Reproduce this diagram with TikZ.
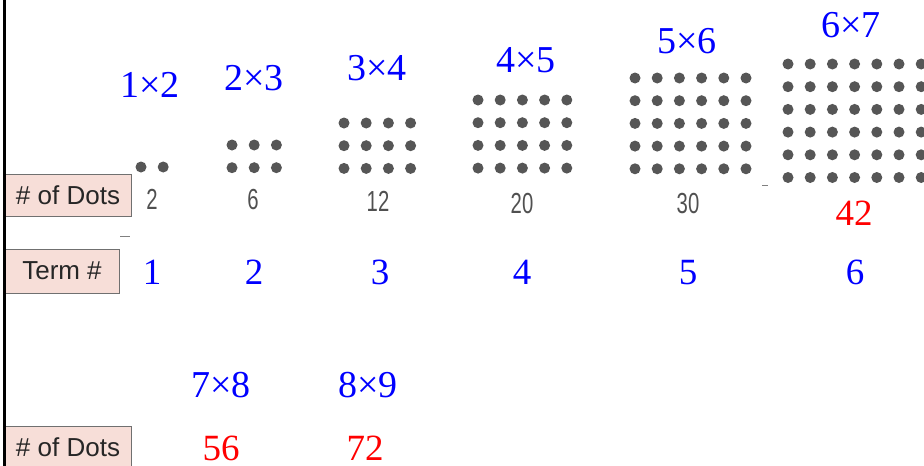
\documentclass[tikz,border=0pt]{standalone}
\usepackage{fontspec}
\setmainfont{Liberation Serif}
\newfontfamily\labelsans{Liberation Sans}
\newfontfamily\narrowsans[FakeStretch=0.7]{Liberation Sans}
\usepackage{tikz}

\definecolor{boxpink}{HTML}{F7DED8}
\definecolor{boxedge}{HTML}{707070}
\definecolor{beadgray}{HTML}{565656}
\definecolor{countgray}{HTML}{505050}

\begin{document}
\begin{tikzpicture}[x=1pt, y=-1pt,
  rowbox/.style={rectangle, draw=boxedge, fill=boxpink, line width=1pt, inner sep=0pt,
    font=\labelsans\fontsize{26}{28}\selectfont, text=black!85},
  prod/.style={text=blue, inner sep=0pt, text depth=0pt, font=\fontsize{38}{40}\selectfont},
  term/.style={text=blue, inner sep=0pt, text depth=0pt, font=\fontsize{37}{40}\selectfont},
  total/.style={text=red, inner sep=0pt, text depth=0pt, font=\fontsize{37}{40}\selectfont},
  count/.style={text=countgray, inner sep=0pt, text depth=0pt, font=\narrowsans\fontsize{29}{30}\selectfont},
  bead/.style={fill=beadgray}]

\useasboundingbox (0,0) rectangle (924,466);

% row labels
\node[rowbox, minimum width=126pt, minimum height=42pt] (dots) at (68,195) {\# of Dots};
\node[rowbox, minimum width=114pt, minimum height=44pt] (termno) at (62,271) {Term \#};
\node[rowbox, minimum width=126pt, minimum height=42pt] (dotsb) at (68,447) {\# of Dots};

% dot arrays: left x / top y / columns / rows
\foreach \x/\y/\nc/\nr in {141/167/2/1, 232/145/3/2, 344/123/4/3, 478/100/5/4, 635/78/6/5, 788/64/7/6}
  \foreach \i in {1,...,\nc}
    \foreach \j in {1,...,\nr}
      \fill[bead] ({\x+22.2*(\i-1)},{\y+22.7*(\j-1)}) circle (5.5pt);

% products
\node[prod] (p1) at (150,85) {1×2};
\node[prod] (p2) at (254,78) {2×3};
\node[prod] (p3) at (377,68) {3×4};
\node[prod] (p4) at (526,60) {4×5};
\node[prod] (p5) at (687,41) {5×6};
\node[prod] (p6) at (851,25) {6×7};
\node[prod] (p7) at (221,385) {7×8};
\node[prod] (p8) at (368,385) {8×9};

% dot counts
\node[count] (c1) at (152,199) {2};
\node[count] (c2) at (253,199) {6};
\node[count] (c3) at (378,201) {12};
\node[count] (c4) at (522,203) {20};
\node[count] (c5) at (688,203) {30};
\node[total] (c6) at (854,213) {42};
\node[total] (c7) at (221,448) {56};
\node[total] (c8) at (365,448) {72};

% term numbers
\foreach \n/\x in {1/152, 2/254, 3/380, 4/522, 5/688, 6/855}
  \node[term] (t\n) at (\x,272) {\n};

% stray marks
\draw[gray, line width=1pt] (120,236) -- (130,236);
\draw[gray, line width=1pt] (762,185) -- (768,185);

% left edge
\draw[line width=3pt] (4,0) -- (4,466);
\end{tikzpicture}
\end{document}
